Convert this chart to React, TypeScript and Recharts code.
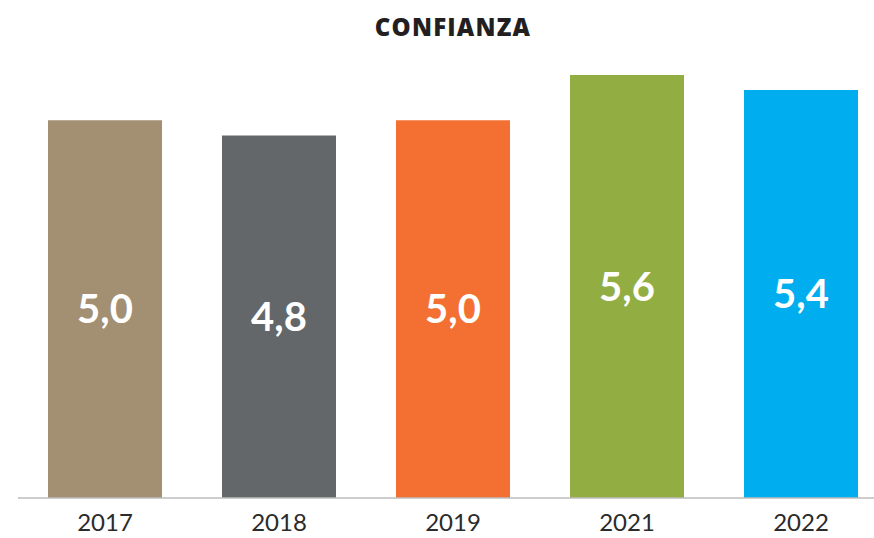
import { BarChart, Bar, XAxis, YAxis, Cell, LabelList } from 'recharts';

const YEARS = ['2017', '2018', '2019', '2021', '2022'];
const VALUES = [5.0, 4.8, 5.0, 5.6, 5.4];
const COLORS = ['#a38f72', '#63676a', '#f37032', '#92ad42', '#00aeef'];

const data = YEARS.map((year, i) => ({ year, value: VALUES[i] }));

const fmt = (v: number) => v.toFixed(1).replace('.', ',');

export default function App() {
  return (
    <div
      style={{
        position: 'absolute',
        left: 0,
        top: 0,
        width: 874,
        height: 538,
        overflow: 'hidden',
        background: '#fff',
        fontFamily: 'Lato, sans-serif',
      }}
    >
      <div
        style={{
          position: 'absolute',
          left: 253,
          top: 11,
          width: 400,
          textAlign: 'center',
          fontSize: 24,
          fontWeight: 800,
          fontFamily: '"Open Sans", sans-serif',
          letterSpacing: 1.2,
          color: '#231f20',
          lineHeight: '32px',
        }}
      >
        CONFIANZA
      </div>
      <BarChart
        width={890}
        height={538}
        data={data}
        margin={{ top: 75, right: 2, bottom: 0, left: 18 }}
        barCategoryGap={60}
      >
        <XAxis
          dataKey="year"
          axisLine={{ stroke: '#bdbdbd', strokeWidth: 1.5 }}
          tickLine={false}
          height={40}
          tickMargin={10}
          tick={{ fill: '#2b2b2b', fontSize: 24, fontFamily: 'Lato', fontWeight: 400 }}
        />
        <YAxis hide domain={[0, 5.6]} />
        <Bar dataKey="value" barSize={114} isAnimationActive={false}>
          {data.map((_, i) => (
            <Cell key={i} fill={COLORS[i]} />
          ))}
          <LabelList
            dataKey="value"
            position="center"
            formatter={(v: number) => fmt(v)}
            style={{ fill: '#fff', fontSize: 40, fontWeight: 700, fontFamily: 'Lato' }}
          />
        </Bar>
      </BarChart>
    </div>
  );
}
